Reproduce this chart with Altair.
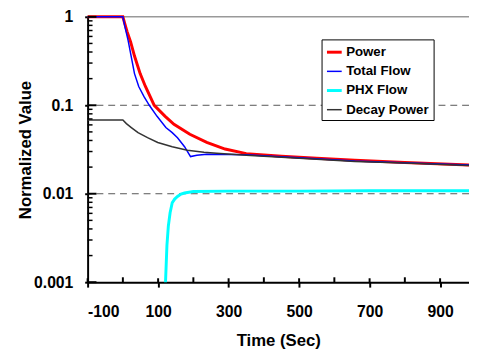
import altair as alt
import pandas as pd

# ---- data ----
series_names = ["Power", "Total Flow", "PHX Flow", "Decay Power"]
series_colors = ["#ff0000", "#0000ff", "#00ffff", "#333333"]
series_widths = [3, 1.5, 3, 1.5]

power_t = [-100, 0, 5, 12, 22, 33, 49, 64, 89, 120, 145, 190, 238, 290, 350, 450, 550, 658, 800, 982]
power_v = [1, 1, 0.85, 0.68, 0.52, 0.36, 0.228, 0.163, 0.1, 0.075, 0.061, 0.047, 0.038, 0.032, 0.0284,
           0.0265, 0.0252, 0.0239, 0.0226, 0.0211]

flow_t = [-100, 0, 5, 15, 33, 45, 60, 75, 97, 122, 140, 155, 175, 192, 210, 238, 300, 350, 450, 550,
          658, 800, 982]
flow_v = [1, 1, 0.8, 0.537, 0.228, 0.163, 0.125, 0.1, 0.075, 0.056, 0.049, 0.043, 0.034, 0.0263, 0.0272,
          0.0279, 0.0278, 0.0276, 0.0262, 0.0248, 0.0234, 0.0224, 0.0211]

phx_t = [121, 125, 129, 134, 140, 147, 155, 165, 175, 200, 300, 500, 700, 982]
phx_v = [0.001, 0.0026, 0.0043, 0.0061, 0.0079, 0.0087, 0.0093, 0.0099, 0.0102, 0.0106, 0.0107, 0.0107,
         0.0108, 0.0108]

decay_t = [-100, 0, 10, 24, 43, 70, 99, 140, 183, 230, 266, 350, 450, 550, 658, 800, 982]
decay_v = [0.068, 0.068, 0.062, 0.056, 0.049, 0.043, 0.038, 0.034, 0.031, 0.0295, 0.0287, 0.0272, 0.0258,
           0.0245, 0.0232, 0.0222, 0.0208]

x_major = [-100, 100, 300, 500, 700, 900]
x_minor = [0, 200, 400, 600, 800]
y_major = [0.001, 0.01, 0.1, 1]
y_minor = [m * 10.0 ** e for e in (-3, -2, -1) for m in range(2, 10)]
dashed_grid = [0.1, 0.01]
solid_grid = [1]

# ---- build tables ----
rows = []
for name, ts, vs in [("Power", power_t, power_v), ("Total Flow", flow_t, flow_v),
                     ("PHX Flow", phx_t, phx_v), ("Decay Power", decay_t, decay_v)]:
    for i, (t, v) in enumerate(zip(ts, vs)):
        rows.append({"t": t, "y": v, "series": name, "order": i})
df = pd.DataFrame(rows)

W, H = 388, 270
FONT = "Liberation Sans"

xscale = alt.Scale(domain=[-100, 982], nice=False, zero=False)
yscale = alt.Scale(type="log", domain=[0.001, 1], nice=False)
xaxis = alt.Axis(values=x_major, labelExpr="'' + datum.value", title="Time (Sec)", grid=False,
                 tickSize=5, labelPadding=17, titlePadding=13)
yaxis = alt.Axis(values=y_major, format="~g", title="Normalized Value", grid=False,
                 tickSize=3, labelPadding=12, titlePadding=-1)


def Y(field="y"):
    return alt.Y(f"{field}:Q", scale=yscale, axis=yaxis)


def X(field="t"):
    return alt.X(f"{field}:Q", scale=xscale, axis=xaxis)


dashed = alt.Chart(pd.DataFrame({"y": dashed_grid})).mark_rule(
    color="#555555", strokeWidth=1, strokeDash=[7, 5]
).encode(y=Y())

solid = alt.Chart(pd.DataFrame({"y": solid_grid})).mark_rule(
    color="#999999", strokeWidth=1.5
).encode(y=Y())

lines = alt.Chart(df).mark_line().encode(
    x=X(),
    y=Y(),
    color=alt.Color("series:N", scale=alt.Scale(domain=series_names, range=series_colors),
                    sort=series_names, title=None),
    strokeWidth=alt.StrokeWidth("series:N",
                                scale=alt.Scale(type="ordinal", domain=series_names, range=series_widths),
                                sort=series_names, title=None),
    order="order:Q",
    detail="series:N",
)

y_major_in = alt.Chart(pd.DataFrame({"y": y_major})).mark_rule(color="black", strokeWidth=2).encode(
    y=Y(), x=alt.value(0), x2=alt.value(9))
y_minor_in = alt.Chart(pd.DataFrame({"y": y_minor})).mark_rule(color="black", strokeWidth=1.5).encode(
    y=Y(), x=alt.value(0), x2=alt.value(5))
x_major_in = alt.Chart(pd.DataFrame({"t": x_major})).mark_rule(color="black", strokeWidth=2).encode(
    x=X(), y=alt.value(H - 4), y2=alt.value(H))
x_minor_in = alt.Chart(pd.DataFrame({"t": x_minor})).mark_rule(color="black", strokeWidth=2).encode(
    x=X(), y=alt.value(H - 5), y2=alt.value(H))

chart = alt.layer(solid, dashed, lines, y_major_in, y_minor_in, x_major_in, x_minor_in).properties(
    width=W, height=H,
    autosize=alt.AutoSizeParams(type="none"),
    padding={"left": 81, "top": 6, "right": 0, "bottom": 65},
).configure_view(stroke=None).configure_axis(
    domainColor="black", domainWidth=2, tickColor="black", tickWidth=2,
    labelFont=FONT, labelFontSize=16, labelFontWeight="bold", labelColor="black",
    titleFont=FONT, titleFontSize=17, titleFontWeight="bold", titleColor="black",
).configure_legend(
    orient="none", legendX=238, legendY=23,
    strokeColor="black", fillColor="white", padding=4,
    symbolType="stroke", symbolSize=225, symbolOffset=0,
    labelFont=FONT, labelFontSize=13.5, labelFontWeight="bold", labelColor="black",
    labelOffset=3, rowPadding=4,
)

chart.save("out.html", embed_options={"renderer": "svg", "actions": False})
